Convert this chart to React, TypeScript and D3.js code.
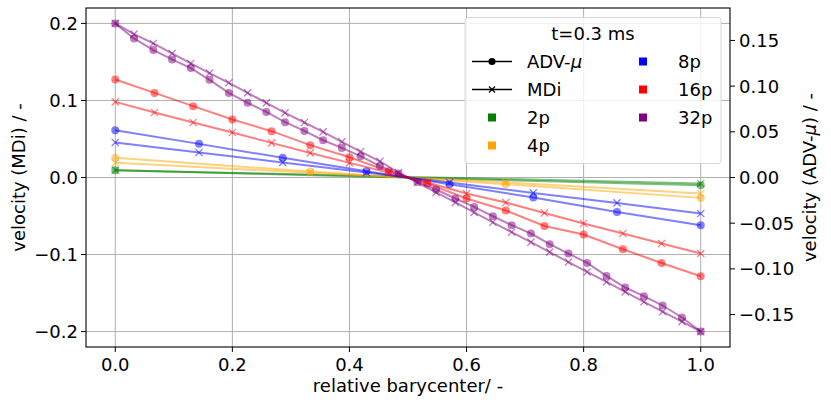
import * as d3 from 'd3'

// relative barycenter positions of the particles
const x2 = [0, 1]
const x4 = [0, 0.333, 0.667, 1]
const x8 = [0, 0.143, 0.286, 0.429, 0.571, 0.714, 0.857, 1]
const x16 = [0, 0.067, 0.133, 0.2, 0.267, 0.333, 0.4, 0.467, 0.533, 0.6, 0.667, 0.733, 0.8, 0.867, 0.933, 1]
const x32 = [
  0, 0.032, 0.065, 0.097, 0.129, 0.161, 0.194, 0.226, 0.258, 0.29, 0.323, 0.355, 0.387, 0.419, 0.452, 0.484,
  0.516, 0.548, 0.581, 0.613, 0.645, 0.677, 0.71, 0.742, 0.774, 0.806, 0.839, 0.871, 0.903, 0.935, 0.968, 1,
]

// MDi velocities (left axis)
const mdi2 = [0.0095, -0.0078]
const mdi4 = [0.019, 0.0063, -0.0063, -0.0208]
const mdi8 = [0.0455, 0.0325, 0.0195, 0.0065, -0.0065, -0.02, -0.033, -0.0468]
const mdi16 = [0.0982, 0.0844, 0.0714, 0.0584, 0.0449, 0.0319, 0.019, 0.0063, -0.0065, -0.0208, -0.0325, -0.046, -0.0597, -0.0727, -0.0857, -0.0987]
const mdi32 = [
  0.2, 0.1861, 0.174, 0.161, 0.148, 0.1355, 0.1229, 0.1099, 0.0969, 0.0839, 0.0714, 0.0592, 0.0462, 0.0335, 0.021, 0.0065,
  -0.0065, -0.0194, -0.0323, -0.0452, -0.0581, -0.071, -0.0839, -0.0968, -0.1097, -0.1226, -0.1355, -0.1484, -0.1613, -0.1742, -0.1871, -0.2,
]

// ADV-mu velocities (right axis)
const adv2 = [0.008, -0.0084]
const adv4 = [0.0215, 0.0066, -0.0073, -0.0223]
const adv8 = [0.0518, 0.0368, 0.0215, 0.0069, -0.0073, -0.0219, -0.0377, -0.0522]
const adv16 = [0.1073, 0.0926, 0.0781, 0.0635, 0.0507, 0.0354, 0.0222, 0.0069, -0.0066, -0.023, -0.0361, -0.053, -0.0624, -0.0785, -0.0935, -0.1081]
const adv32 = [
  0.1686, 0.1522, 0.1394, 0.1292, 0.1197, 0.1069, 0.0926, 0.0817, 0.0718, 0.0605, 0.051, 0.0408, 0.0324, 0.0233, 0.0124, 0.0045,
  -0.0048, -0.0131, -0.023, -0.0322, -0.0424, -0.0522, -0.0613, -0.073, -0.0832, -0.0935, -0.1077, -0.1204, -0.1299, -0.1401, -0.1532, -0.1686,
]

const labels = ['2p', '4p', '8p', '16p', '32p']
const colors = ['green', 'orange', 'blue', 'red', 'purple']
const xs = [x2, x4, x8, x16, x32]
const mdis = [mdi2, mdi4, mdi8, mdi16, mdi32]
const advs = [adv2, adv4, adv8, adv16, adv32]

const xTicks = [0, 0.2, 0.4, 0.6, 0.8, 1]
const yLeftTicks = [-0.2, -0.1, 0, 0.1, 0.2]
const yRightTicks = [-0.15, -0.1, -0.05, 0, 0.05, 0.1, 0.15]

const W = 831
const H = 406
const m = { left: 86, right: 730, top: 8, bottom: 347 }
const font = "'DejaVu Sans', sans-serif"
const fs = 18

const fmt = (v: number, d: number) => (v < 0 ? '\u2212' : '') + Math.abs(v).toFixed(d)

export default function App() {
  const x = d3.scaleLinear().domain([-0.05, 1.05]).range([m.left, m.right])
  const yL = d3.scaleLinear().domain([-0.22, 0.22]).range([m.bottom, m.top])
  const yR = d3.scaleLinear().domain([-0.1855, 0.1855]).range([m.bottom, m.top])

  const lineL = d3.line<[number, number]>().x(d => x(d[0])).y(d => yL(d[1]))
  const lineR = d3.line<[number, number]>().x(d => x(d[0])).y(d => yR(d[1]))

  const cross = (cx: number, cy: number, s: number) =>
    `M${cx - s},${cy - s}L${cx + s},${cy + s}M${cx - s},${cy + s}L${cx + s},${cy - s}`

  // legend layout
  const lg = { x: 465, y: 17.5, w: 256, h: 146 }
  const rowY = (i: number) => 61.5 + i * 28
  const leftEntries = [
    { kind: 'adv', label: 'ADV-' },
    { kind: 'mdi', label: 'MDi' },
    { kind: 'sq', label: labels[0], color: colors[0] },
    { kind: 'sq', label: labels[1], color: colors[1] },
  ]
  const rightEntries = [2, 3, 4].map(i => ({ label: labels[i], color: colors[i] }))

  return (
    <svg width={W} height={H} style={{ position: 'absolute', left: 0, top: 0, background: '#fff' }}
      fontFamily={font} fontSize={fs}>
      <rect x={0} y={0} width={W} height={H} fill="#fff" />

      {/* grid */}
      <g stroke="#b0b0b0" strokeWidth={1}>
        {xTicks.map(t => <line key={'gx' + t} x1={x(t)} x2={x(t)} y1={m.top} y2={m.bottom} />)}
        {yLeftTicks.map(t => <line key={'gy' + t} x1={m.left} x2={m.right} y1={yL(t)} y2={yL(t)} />)}
      </g>

      {/* series */}
      {xs.map((xv, k) => {
        const mdPts = xv.map((v, i) => [v, mdis[k][i]] as [number, number])
        const adPts = xv.map((v, i) => [v, advs[k][i]] as [number, number])
        return (
          <g key={labels[k]}>
            <path d={lineR(adPts) ?? ''} fill="none" stroke={colors[k]} strokeWidth={2} strokeOpacity={0.5} />
            {adPts.map((p, i) => (
              <circle key={i} cx={x(p[0])} cy={yR(p[1])} r={4} fill={colors[k]} fillOpacity={0.5} />
            ))}
            <path d={lineL(mdPts) ?? ''} fill="none" stroke={colors[k]} strokeWidth={2} strokeOpacity={0.5} />
            {mdPts.map((p, i) => (
              <path key={i} d={cross(x(p[0]), yL(p[1]), 3.6)} stroke={colors[k]} strokeWidth={1.3} strokeOpacity={0.5} />
            ))}
          </g>
        )
      })}

      {/* frame */}
      <rect x={m.left} y={m.top} width={m.right - m.left} height={m.bottom - m.top} fill="none" stroke="#000" strokeWidth={1.1} />

      {/* bottom axis */}
      {xTicks.map(t => (
        <g key={'tx' + t}>
          <line x1={x(t)} x2={x(t)} y1={m.bottom} y2={m.bottom + 5} stroke="#000" />
          <text x={x(t)} y={371} textAnchor="middle">{t.toFixed(1)}</text>
        </g>
      ))}
      <text x={(m.left + m.right) / 2} y={391.5} textAnchor="middle">relative barycenter/ -</text>

      {/* left axis */}
      {yLeftTicks.map(t => (
        <g key={'tl' + t}>
          <line x1={m.left - 5} x2={m.left} y1={yL(t)} y2={yL(t)} stroke="#000" />
          <text x={78} y={yL(t)} dy="0.36em" textAnchor="end">{fmt(t, 1)}</text>
        </g>
      ))}
      <text transform={`translate(25,${(m.top + m.bottom) / 2}) rotate(-90)`} textAnchor="middle">velocity (MDi) / -</text>

      {/* right axis */}
      {yRightTicks.map(t => (
        <g key={'tr' + t}>
          <line x1={m.right} x2={m.right + 5} y1={yR(t)} y2={yR(t)} stroke="#000" />
          <text x={739} y={yR(t)} dy="0.36em" textAnchor="start">{fmt(t, 2)}</text>
        </g>
      ))}
      <text transform={`translate(816,${(m.top + m.bottom) / 2}) rotate(-90)`} textAnchor="middle">
        velocity (ADV-<tspan fontStyle="italic">μ</tspan>) / -
      </text>

      {/* legend */}
      <rect x={lg.x} y={lg.y} width={lg.w} height={lg.h} rx={3} fill="#fff" fillOpacity={0.8} stroke="#d6d6d6" />
      <text x={lg.x + lg.w / 2} y={34} dy="0.36em" textAnchor="middle">t=0.3 ms</text>
      {leftEntries.map((e, i) => (
        <g key={'le' + i}>
          {e.kind === 'sq' ? (
            <rect x={488} y={rowY(i) - 4} width={8} height={8} fill={e.color} />
          ) : (
            <>
              <line x1={472} x2={512} y1={rowY(i)} y2={rowY(i)} stroke="#000" strokeWidth={1.6} />
              {e.kind === 'adv'
                ? <circle cx={492} cy={rowY(i)} r={3.6} fill="#000" />
                : <path d={cross(492, rowY(i), 3)} stroke="#000" strokeWidth={1.2} />}
            </>
          )}
          <text x={527} y={rowY(i)} dy="0.36em">
            {e.label}{e.kind === 'adv' ? <tspan fontStyle="italic">μ</tspan> : null}
          </text>
        </g>
      ))}
      {rightEntries.map((e, i) => (
        <g key={'re' + i}>
          <rect x={639} y={rowY(i) - 4} width={8} height={8} fill={e.color} />
          <text x={678} y={rowY(i)} dy="0.36em">{e.label}</text>
        </g>
      ))}
    </svg>
  )
}
